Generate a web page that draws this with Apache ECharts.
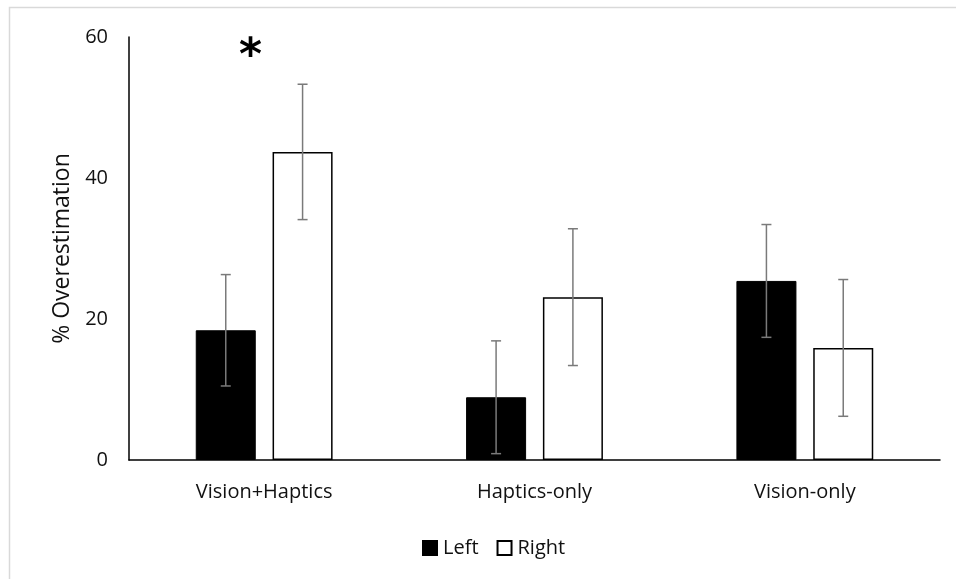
<!DOCTYPE html>
<html>
<head>
<meta charset="utf-8">
<script src="https://cdn.jsdelivr.net/npm/echarts@6/dist/echarts.min.js"></script>
<style>
  html, body { margin: 0; padding: 0; background: #fff; }
  #chart { width: 956px; height: 579px; }
</style>
</head>
<body>
<div id="chart"></div>
<script>
    // values
    const categories = ['Vision+Haptics', 'Haptics-only', 'Vision-only'];
    const leftMeans = [18.4, 8.9, 25.4];
    const leftErrors = [7.9, 8.0, 8.0];
    const rightMeans = [43.7, 23.1, 15.9];
    const rightErrors = [9.6, 9.7, 9.7];
    const yTicks = [0, 20, 40, 60];

    const font = '"Open Sans", "Noto Sans", sans-serif';
    const barWidthPct = 0.222;
    const barGapPct = 0.28;

    const chart = echarts.init(document.getElementById('chart'));

    // error bar drawn around the bar of one series (side = -1 left, +1 right)
    function errorBar(side) {
        return function (params, api) {
            const cat = api.value(0);
            const lo = api.coord([cat, api.value(1)]);
            const hi = api.coord([cat, api.value(2)]);
            const band = api.size([1, 0])[0];
            const dx = side * band * barWidthPct * (1 + barGapPct) / 2;
            const x = lo[0] + dx;
            const cap = 5;
            const style = { stroke: '#7a7a7a', lineWidth: 1.5 };
            return {
                type: 'group',
                children: [
                    { type: 'line', shape: { x1: x, y1: lo[1], x2: x, y2: hi[1] }, style: style },
                    { type: 'line', shape: { x1: x - cap, y1: lo[1], x2: x + cap, y2: lo[1] }, style: style },
                    { type: 'line', shape: { x1: x - cap, y1: hi[1], x2: x + cap, y2: hi[1] }, style: style }
                ]
            };
        };
    }

    const leftErrData = categories.map((c, i) => [i, leftMeans[i] - leftErrors[i], leftMeans[i] + leftErrors[i]]);
    const rightErrData = categories.map((c, i) => [i, rightMeans[i] - rightErrors[i], rightMeans[i] + rightErrors[i]]);

    const option = {
        animation: false,
        backgroundColor: '#fff',
        graphic: [{
            type: 'rect',
            shape: { x: 9.5, y: 7.5, width: 960, height: 590 },
            style: { fill: 'none', stroke: '#d9d9d9', lineWidth: 1.5 },
            silent: true
        }],
        grid: { left: 129, right: 16, top: 37, bottom: 119 },
        legend: {
            top: 533,
            left: 417,
            icon: 'rect',
            itemWidth: 14,
            itemHeight: 14,
            itemGap: 18,
            data: ['Left', 'Right'],
            textStyle: { fontFamily: font, fontSize: 20, color: '#111', padding: [0, 0, 0, 1] }
        },
        xAxis: {
            type: 'category',
            data: categories,
            axisLine: { lineStyle: { color: '#000', width: 1.5 } },
            axisTick: { show: false },
            axisLabel: { fontFamily: font, fontSize: 20, color: '#111', margin: 22 }
        },
        yAxis: {
            type: 'value',
            min: yTicks[0],
            max: yTicks[yTicks.length - 1],
            interval: yTicks[1] - yTicks[0],
            name: '% Overestimation',
            nameLocation: 'middle',
            nameGap: 55,
            nameTextStyle: { fontFamily: font, fontSize: 23, color: '#111' },
            axisLine: { show: true, lineStyle: { color: '#000', width: 1.5 } },
            axisTick: { show: false },
            splitLine: { show: false },
            axisLabel: { fontFamily: font, fontSize: 20, color: '#111', margin: 21 }
        },
        series: [
            {
                name: 'Left',
                type: 'bar',
                data: leftMeans,
                barWidth: (barWidthPct * 100) + '%',
                barGap: (barGapPct * 100) + '%',
                itemStyle: { color: '#000', borderColor: '#000', borderWidth: 1 }
            },
            {
                name: 'Right',
                type: 'bar',
                data: rightMeans,
                barWidth: (barWidthPct * 100) + '%',
                barGap: (barGapPct * 100) + '%',
                itemStyle: { color: '#fff', borderColor: '#000', borderWidth: 1.5 },
                markPoint: {
                    symbol: 'circle',
                    symbolSize: 0,
                    data: [{ coord: [categories[0], 58.5] }],
                    label: {
                        show: true,
                        formatter: '*',
                        fontSize: 44,
                        fontWeight: 'bold',
                        color: '#000',
                        fontFamily: '"DejaVu Sans", sans-serif',
                        offset: [-52, 10]
                    }
                }
            },
            {
                name: 'LeftErr',
                type: 'custom',
                renderItem: errorBar(-1),
                data: leftErrData,
                encode: { x: 0, y: [1, 2] },
                z: 10
            },
            {
                name: 'RightErr',
                type: 'custom',
                renderItem: errorBar(1),
                data: rightErrData,
                encode: { x: 0, y: [1, 2] },
                z: 10
            }
        ]
    };

    chart.setOption(option);
</script>
</body>
</html>
